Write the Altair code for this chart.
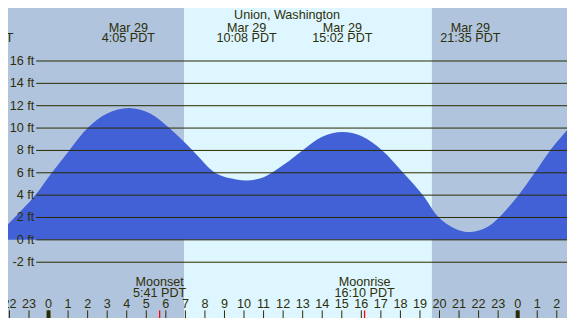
import altair as alt
import pandas as pd

# ---------------- data ----------------
tide_hours = [-2.074, -0.68, 0.164, 1.06, 2.0, 3.0, 4.1, 5.2, 6.18, 7.37, 8.52, 9.3,
              10.13, 11.0, 11.6, 12.1, 12.99, 14.0, 15.03, 16.0, 17.07, 18.14, 19.15,
              19.97, 20.8, 21.6, 22.4, 23.04, 24.04, 24.87, 25.66, 26.522]
tide_ft = [1.4, 4, 6, 8, 10, 11.3, 11.8, 11.3, 10, 8, 6, 5.5,
           5.3, 5.6, 6.2, 6.8, 8, 9.23, 9.65, 9.28, 8, 6, 4,
           2, 1.0, 0.7, 1.1, 2, 4, 6, 8, 9.8]

sun_start = [-2.074, 6.93, 19.61]
sun_end = [6.93, 19.61, 26.522]
sun_kind = ["night", "day", "night"]

event_hours = [-3.33, 4.083, 10.133, 15.033, 21.583]
event_dates = ["Mar 28", "Mar 29", "Mar 29", "Mar 29", "Mar 29"]
event_times = ["20:40 PDT", "4:05 PDT", "10:08 PDT", "15:02 PDT", "21:35 PDT"]

moon_hours = [5.683, 16.167]
moon_names = ["Moonset", "Moonrise"]
moon_times = ["5:41 PDT", "16:10 PDT"]

grid_ft = [16, 14, 12, 10, 8, 6, 4, 2, 0, -2]
grid_labels = [f"{v} ft" for v in grid_ft]

tick_hours = list(range(-2, 27))
tick_labels = [str(h % 24) for h in tick_hours]
midnight_hours = [0, 24]

title_text = "Union, Washington"

# ---------------- layout ----------------
W, H = 559, 310
SX, SY = W / 575, H / 326
X_DOMAIN = [-2.074, 26.522]
Y_DOMAIN = [-6.99, 20.74]
FONT = "Liberation Sans"
FS = 12.6
TXT = "#2e2e08"
LINE = "#2b2b00"

xs = alt.Scale(domain=X_DOMAIN, nice=False, zero=False)
ys = alt.Scale(domain=Y_DOMAIN, nice=False, zero=False)

tide_df = pd.DataFrame({"h": tide_hours, "ft": tide_ft})
sun_df = pd.DataFrame({"a": sun_start, "b": sun_end, "k": sun_kind})
event_df = pd.DataFrame({"h": event_hours, "d": event_dates, "t": event_times})
moon_df = pd.DataFrame({"h": moon_hours, "n": moon_names, "t": moon_times})
grid_df = pd.DataFrame({"ft": grid_ft, "lab": grid_labels})
tick_df = pd.DataFrame({"h": tick_hours, "lab": tick_labels})
mid_df = pd.DataFrame({"h": midnight_hours})
title_df = pd.DataFrame({"t": [title_text]})

bg = alt.Chart(sun_df).mark_rect(clip=True).encode(
    x=alt.X("a:Q", scale=xs, axis=None),
    x2="b:Q",
    color=alt.Color("k:N", scale=alt.Scale(domain=["night", "day"],
                                           range=["#B0C4DE", "#DDF6FF"]), legend=None),
)

area = alt.Chart(tide_df).mark_area(color="#4261D6", interpolate="catmull-rom", clip=True).encode(
    x=alt.X("h:Q", scale=xs, axis=None),
    y=alt.Y("ft:Q", scale=ys, axis=None),
    y2=alt.value(H),
)

grid = alt.Chart(grid_df).mark_rule(color=LINE, strokeWidth=1).encode(
    y=alt.Y("ft:Q", scale=ys, axis=None),
    x=alt.value(29 * SX),
    x2=alt.value(W),
)

grid_text = alt.Chart(grid_df).mark_text(
    align="right", baseline="middle", font=FONT, fontSize=FS, color=TXT
).encode(
    y=alt.Y("ft:Q", scale=ys, axis=None),
    x=alt.value(27 * SX),
    text="lab:N",
)

title = alt.Chart(title_df).mark_text(
    align="center", baseline="alphabetic", font=FONT, fontSize=FS, color=TXT
).encode(x=alt.value(287 * SX), y=alt.value(11.5 * SY), text="t:N")

ev_date = alt.Chart(event_df).mark_text(
    align="center", baseline="alphabetic", font=FONT, fontSize=FS, color=TXT, clip=True
).encode(x=alt.X("h:Q", scale=xs, axis=None), y=alt.value(25 * SY), text="d:N")

ev_time = alt.Chart(event_df).mark_text(
    align="center", baseline="alphabetic", font=FONT, fontSize=FS, color=TXT, clip=True
).encode(x=alt.X("h:Q", scale=xs, axis=None), y=alt.value(36 * SY), text="t:N")

moon_name = alt.Chart(moon_df).mark_text(
    align="center", baseline="alphabetic", font=FONT, fontSize=FS, color=TXT, clip=True
).encode(x=alt.X("h:Q", scale=xs, axis=None), y=alt.value(292.5 * SY), text="n:N")

moon_time = alt.Chart(moon_df).mark_text(
    align="center", baseline="alphabetic", font=FONT, fontSize=FS, color=TXT, clip=True
).encode(x=alt.X("h:Q", scale=xs, axis=None), y=alt.value(303.5 * SY), text="t:N")

hour_text = alt.Chart(tick_df).mark_text(
    align="center", baseline="alphabetic", font=FONT, fontSize=FS, color=TXT, clip=True
).encode(x=alt.X("h:Q", scale=xs, axis=None), y=alt.value(315 * SY), text="lab:N")

ticks = alt.Chart(tick_df).mark_rule(color=LINE, strokeWidth=1, clip=True).encode(
    x=alt.X("h:Q", scale=xs, axis=None),
    y=alt.value(318 * SY),
    y2=alt.value(H),
)

mid_ticks = alt.Chart(mid_df).mark_rule(color=LINE, strokeWidth=4, clip=True).encode(
    x=alt.X("h:Q", scale=xs, axis=None),
    y=alt.value(318 * SY),
    y2=alt.value(H),
)

moon_ticks = alt.Chart(moon_df).mark_rule(color="#FF0000", strokeWidth=1.3, clip=True).encode(
    x=alt.X("h:Q", scale=xs, axis=None),
    y=alt.value(318 * SY),
    y2=alt.value(H),
)

chart = alt.layer(
    bg, area, grid, grid_text, title, ev_date, ev_time,
    moon_name, moon_time, hour_text, ticks, mid_ticks, moon_ticks
).properties(
    width=W, height=H,
    autosize=alt.AutoSizeParams(type="none"),
    padding=0,
).configure_view(stroke=None).resolve_scale(color="independent")

chart.save("out.html", embed_options={"renderer": "svg", "actions": False})
